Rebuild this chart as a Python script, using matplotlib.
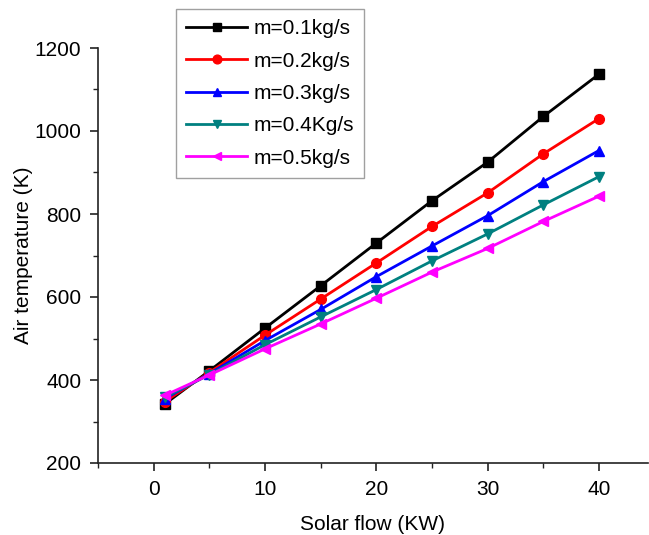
import matplotlib
matplotlib.use("Agg")
import matplotlib.pyplot as plt
from matplotlib.ticker import MultipleLocator

plt.rcParams['font.family'] = ['Liberation Sans', 'DejaVu Sans']

solar = [1, 5, 10, 15, 20, 25, 30, 35, 40]
m01 = [342, 422, 525, 627, 730, 832, 925, 1035, 1137]
m02 = [348, 418, 508, 595, 682, 770, 851, 945, 1030]
m03 = [355, 415, 495, 570, 649, 723, 796, 878, 953]
m04 = [358, 413, 485, 552, 618, 687, 752, 822, 890]
m05 = [363, 412, 475, 535, 597, 660, 717, 782, 843]
labels = ['m=0.1kg/s', 'm=0.2kg/s', 'm=0.3kg/s', 'm=0.4Kg/s', 'm=0.5kg/s']

series = [m01, m02, m03, m04, m05]
colors = ['black', '#ff0000', '#0000ff', '#008080', '#ff00ff']
markers = ['s', 'o', '^', 'v', '<']

fig = plt.figure(figsize=(6.49, 5.35), dpi=100)
ax = fig.add_axes([98/649, 1-463/535, (648-98)/649, (463-48)/535])

for ys, c, mk, lb in zip(series, colors, markers, labels):
    ax.plot(solar, ys, color=c, marker=mk, markersize=7, linewidth=2.0, label=lb)

ax.set_xlim(-5, 44.4)
ax.set_ylim(200, 1200)
ax.xaxis.set_major_locator(MultipleLocator(10))
ax.xaxis.set_minor_locator(MultipleLocator(5))
ax.yaxis.set_major_locator(MultipleLocator(200))
ax.yaxis.set_minor_locator(MultipleLocator(100))
ax.spines['top'].set_visible(False)
ax.spines['right'].set_visible(False)
for s in ['left', 'bottom']:
    ax.spines[s].set_linewidth(1.2)
    ax.spines[s].set_color('#222222')
ax.tick_params(which='major', direction='out', length=6, width=1.2, labelsize=15, pad=6,
               colors='#222222', labelcolor='black')
ax.tick_params(which='minor', direction='out', length=3.5, width=1.0, colors='#222222')

ax.set_xlabel('Solar flow (KW)', fontsize=15, labelpad=12)
ax.set_ylabel('Air temperature (K)', fontsize=15, labelpad=1)

leg = fig.legend(loc='upper left', bbox_to_anchor=(176/649, 1-9/535), fontsize=15,
                 frameon=True, fancybox=False, edgecolor='#888888', handlelength=2.9,
                 borderpad=0.5, labelspacing=0.64, handletextpad=0.3, borderaxespad=0,
                 markerscale=0.9)
leg.get_frame().set_linewidth(1.0)

fig.savefig('out.png', dpi=100)
